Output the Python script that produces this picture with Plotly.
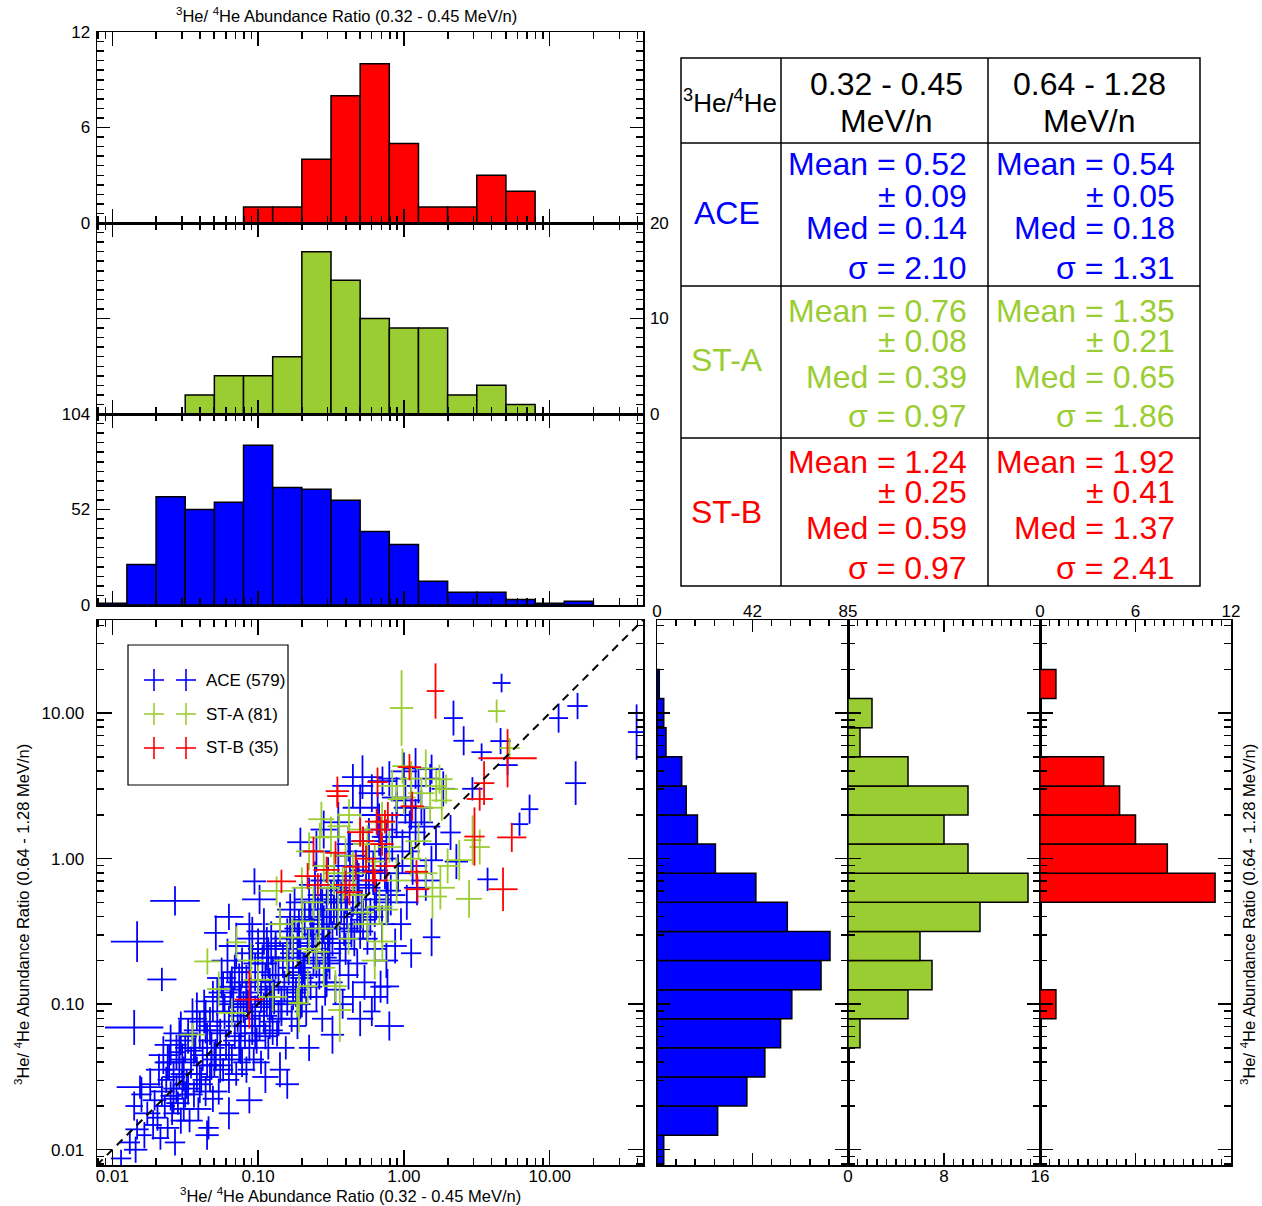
import numpy as np
import plotly.graph_objects as go

W, H = 1262, 1206
FONT = "Liberation Sans, Arial, Helvetica, sans-serif"
BLUE, GREEN, RED = "#0000ff", "#9acd32", "#ff0000"

# ---------------- data ----------------
BIN_W = 0.2  # histogram bin width in dex

# top histograms: 3He/4He (0.32-0.45 MeV/n), counts per 0.2-dex bin
top_red_start = -1.1
top_red_counts = [1, 1, 4, 8, 10, 5, 1, 1, 3, 2]
top_grn_start = -1.5
top_grn_counts = [2, 4, 4, 6, 17, 14, 10, 9, 9, 2, 3, 1]
top_blu_start = -2.1
top_blu_counts = [1, 22, 59, 52, 56, 87, 64, 63, 57, 40, 33, 13, 7, 7, 3, 1, 2]

# right histograms: 3He/4He (0.64-1.28 MeV/n)
right_blu_start = -2.1
right_blu_counts = [3, 27, 40, 48, 55, 60, 73, 77, 58, 44, 26, 18, 13, 11, 4, 3, 1]
right_grn_start = -1.3
right_grn_counts = [1, 5, 7, 6, 11, 15, 10, 8, 10, 5, 1, 2]
right_red_start = -1.1
right_red_counts = [1, 0, 0, 0, 11, 8, 6, 5, 4, 0, 0, 1]

# scatter points, log10 of ratio, with error half-widths in dex
ace_lx = [-1.94, -1.84,
          -1.88, -1.85, -1.83, -1.80, -1.78, -1.76, -1.74, -1.72, -1.71, -1.85, -1.81,
          -1.69, -1.68, -1.67, -1.66, -1.65, -1.64, -1.63, -1.62, -1.61, -1.60, -1.60, -1.59, -1.58, -1.57, -1.56, -1.56, -1.55, -1.54, -1.53, -1.53, -1.52, -1.52, -1.51, -1.51, -1.50,
          -1.57, -1.83, -1.66, -1.29, -1.20, -1.06, -0.99,
          -1.49, -1.48, -1.47, -1.46, -1.45, -1.44, -1.43, -1.42, -1.41, -1.40, -1.39, -1.38, -1.37, -1.36, -1.35, -1.35, -1.34, -1.33, -1.33, -1.32, -1.31, -1.31, -1.30,
          -1.29, -1.28, -1.27, -1.26, -1.25, -1.24, -1.23, -1.22, -1.21, -1.20, -1.20, -1.19, -1.18, -1.17, -1.16, -1.15, -1.15, -1.14, -1.13, -1.13, -1.12, -1.12, -1.11, -1.11, -1.10,
          -1.09, -1.08, -1.08, -1.07, -1.06, -1.06, -1.05, -1.04, -1.04, -1.03, -1.02, -1.02, -1.01, -1.00, -1.00, -0.99, -0.98, -0.98, -0.97, -0.96, -0.96, -0.95, -0.95, -0.94, -0.93, -0.93, -0.92, -0.92, -0.91, -0.91, -0.90, -0.90,
          -0.89, -0.88, -0.87, -0.86, -0.85, -0.84, -0.83, -0.82, -0.81, -0.80, -0.80, -0.79, -0.78, -0.77, -0.76, -0.76, -0.75, -0.74, -0.73, -0.73, -0.72, -0.72, -0.71, -0.71, -0.70, -0.70,
          -0.69, -0.68, -0.67, -0.66, -0.65, -0.64, -0.63, -0.62, -0.61, -0.60, -0.60, -0.59, -0.58, -0.57, -0.56, -0.56, -0.55, -0.54, -0.53, -0.53, -0.52, -0.52, -0.51, -0.51, -0.50,
          -0.49, -0.48, -0.47, -0.46, -0.45, -0.44, -0.43, -0.42, -0.41, -0.40, -0.40, -0.39, -0.38, -0.37, -0.36, -0.35, -0.35, -0.34, -0.33, -0.32, -0.32, -0.31, -0.30,
          -0.29, -0.28, -0.27, -0.26, -0.25, -0.24, -0.23, -0.22, -0.21, -0.20, -0.19, -0.17, -0.16, -0.15, -0.13, -0.12, -0.11,
          -0.09, -0.08, -0.06, -0.05, -0.04, -0.02, -0.01, 0.01, 0.02, 0.04, 0.05, 0.06, 0.08, 0.09,
          -0.45, -0.38, -0.30, -0.22, -0.18, -0.10, -0.05, 0.00, 0.05, 0.10, -0.60, -0.55, -0.35, -0.12, 0.08, 0.14,
          0.12, 0.15, 0.18, 0.19, 0.22, 0.27, 0.34, 0.41, 0.47, 0.36, 0.533, 0.574, 0.663, 0.670, 0.711, 0.793, 0.862, 1.061, 1.178, 1.191, 1.596, 0.19, -0.147, -0.284, -0.71, -1.025, 0.189, 0.32,
          -0.80, -0.85, -1.06, -1.20, -0.49, -0.10, -0.30, -0.65, -1.35, -0.95, -0.113, -0.20,
          -1.62, -1.58, -1.54, -1.48, -1.44, -1.40, -1.36, -1.32, -1.28, -1.24, -1.20, -1.16, -1.12, -1.08, -1.04, -1.00, -0.96, -0.92, -0.88, -0.84,
          -0.80, -0.76, -0.72, -0.68, -0.64, -0.60, -0.56, -0.52, -0.48, -0.44, -0.40, -0.36, -0.32, -0.28, -0.24, -0.20, -0.16, -0.12,
          -1.50, -1.42, -1.26, -1.18, -1.02, -0.94, -0.86, -0.78, -0.70, -0.62, -0.54, -0.46]
ace_ly = [-2.06, -2.00,
          -1.95, -1.70, -1.86, -1.62, -1.90, -1.75, -1.55, -1.83, -1.66, -1.16, -1.57,
          -1.78, -1.45, -1.92, -1.60, -1.35, -1.70, -1.52, -1.85, -1.40, -1.63, -1.28, -1.75, -1.50, -1.95, -1.58, -1.33, -1.68, -1.45, -1.80, -1.20, -1.55, -1.38, -1.72, -1.48, -1.62,
          -0.29, -0.57, -0.83, -0.51, -0.40, -0.45, -0.28,
          -1.55, -1.22, -1.80, -1.40, -1.10, -1.62, -1.30, -1.48, -1.72, -1.18, -1.52, -1.35, -1.05, -1.60, -1.25, -1.42, -1.85, -1.15, -1.50, -1.30, -0.98, -1.65, -1.38,
          -1.35, -0.95, -1.60, -1.20, -0.82, -1.45, -1.05, -1.28, -0.70, -1.52, -1.12, -0.90, -1.38, -1.00, -1.22, -0.60, -1.48, -1.08, -0.85, -1.30, -0.98, -1.15, -0.75, -1.40, -1.02,
          -1.20, -0.85, -1.45, -1.00, -0.65, -1.30, -0.92, -1.10, -0.55, -1.38, -0.78, -1.05, -1.25, -0.88, -0.62, -1.15, -0.95, -1.40, -0.72, -1.02, -0.50, -1.22, -0.84, -0.98, -1.30, -0.68, -0.90, -1.12, -0.58, -1.00, -0.80, -1.18,
          -0.95, -0.60, -1.20, -0.80, -0.45, -1.05, -0.70, -0.88, -1.30, -0.55, -0.98, -0.75, -0.40, -1.10, -0.65, -0.85, -0.35, -0.92, -1.15, -0.58, -0.78, -0.48, -1.00, -0.68, -0.82, -0.30,
          -0.75, -0.42, -1.05, -0.60, -0.28, -0.88, -0.52, -0.70, -0.18, -0.95, -0.62, -0.40, -0.80, -0.25, -0.55, -1.10, -0.45, -0.68, -0.35, -0.85, -0.58, -0.15, -0.72, -0.48, -0.30,
          -0.55, -0.20, -0.90, -0.40, -0.05, -0.70, -0.30, -1.00, -0.48, -0.12, -0.62, -0.35, -0.80, 0.02, -0.45, -0.25, -0.95, -0.55, -0.10, -0.38, -0.72, -0.18, -0.50,
          -0.35, 0.05, -0.85, -0.20, -0.55, 0.12, -0.40, -1.05, -0.10, -0.62, -0.28, 0.20, -0.88, -0.45, -0.05, -0.70, -0.30,
          -0.25, 0.15, -0.60, 0.30, -0.10, -0.45, 0.05, 0.40, -0.30, 0.18, -0.65, -0.05, 0.25, -0.20,
          0.25, 0.10, 0.35, 0.45, 0.30, 0.55, 0.42, 0.60, 0.35, 0.50, 0.05, 0.20, 0.50, 0.15, 0.62, 0.22,
          0.35, -0.15, 0.55, -0.54, 0.10, 0.48, 0.966, 0.81, 0.48, -0.02, 0.732, -0.142, 0.808, 1.207, 0.643, 0.237, 0.34, 0.966, 0.519, 1.049, 0.87, 0.615, 0.533, 0.56, 0.113, -0.156, -0.011, 0.18,
          -1.55, -1.45, -1.66, -1.75, -1.21, -1.15, -1.10, -1.30, -1.90, -1.50, -0.878, -0.95,
          -1.40, -1.65, -1.25, -1.58, -1.32, -1.55, -1.12, -1.42, -1.18, -0.92, -1.35, -0.78, -1.25, -0.95, -1.15, -0.72, -1.08, -0.85, -0.68, -1.00,
          -0.62, -0.90, -0.55, -0.80, -0.42, -0.72, -0.35, -0.65, -0.30, -0.58, -0.22, -0.50, -0.15, -0.42, -0.08, -0.35, 0.00, -0.22,
          -1.30, -1.05, -1.42, -0.88, -1.20, -0.62, -1.10, -0.50, -0.95, -0.48, -0.85, -0.28]
ace_ex = [.07, .08,
          .07, .06, .08, .07, .05, .09, .07, .06, .08, .20, .16,
          .07, .09, .06, .08, .10, .07, .06, .08, .09, .07, .11, .06, .08, .07, .09, .06, .08, .10, .07, .12, .06, .08, .07, .09, .06,
          .17, .18, .10, .08, .10, .09, .12,
          .08, .06, .09, .07, .10, .06, .08, .07, .09, .11, .06, .08, .07, .09, .06, .10, .07, .08, .06, .09, .12, .07, .08,
          .07, .09, .06, .08, .10, .07, .08, .06, .11, .07, .09, .08, .06, .10, .07, .12, .08, .06, .09, .07, .08, .10, .07, .06, .09,
          .08, .07, .06, .09, .10, .07, .08, .06, .11, .07, .09, .08, .06, .10, .07, .08, .09, .06, .10, .07, .12, .08, .07, .09, .06, .10, .08, .07, .11, .09, .08, .07,
          .08, .07, .09, .06, .10, .08, .07, .09, .06, .11, .08, .07, .10, .06, .09, .08, .12, .07, .06, .09, .08, .10, .07, .09, .08, .11,
          .07, .09, .08, .06, .10, .08, .07, .09, .11, .07, .08, .10, .06, .09, .08, .07, .10, .08, .09, .06, .08, .12, .07, .09, .08,
          .08, .10, .07, .09, .11, .08, .09, .07, .10, .12, .08, .09, .07, .11, .08, .10, .07, .09, .12, .08, .07, .10, .09,
          .09, .11, .08, .10, .07, .12, .09, .06, .11, .08, .10, .12, .07, .09, .11, .08, .10,
          .10, .12, .08, .11, .09, .07, .12, .10, .08, .11, .07, .10, .12, .09,
          .10, .08, .12, .09, .11, .08, .10, .09, .12, .08, .10, .09, .14, .10, .08, .11,
          .08, .10, .07, .06, .09, .08, .065, .07, .07, .08, .07, .07, .07, .062, .07, .06, .06, .065, .072, .07, .06, .08, .10, .14, .09, .08, .08, .07,
          .08, .07, .09, .07, .08, .10, .09, .07, .08, .09, .08, .09,
          .09, .07, .10, .08, .06, .09, .11, .07, .08, .10, .06, .09, .12, .07, .08, .10, .09, .06, .11, .08,
          .07, .10, .09, .12, .08, .07, .10, .09, .11, .08, .12, .07, .10, .09, .13, .08, .11, .10,
          .07, .09, .08, .10, .07, .11, .08, .09, .10, .08, .12, .09]
ace_ey = [.06, .09,
          .08, .10, .07, .12, .09, .08, .11, .10, .07, .12, .08,
          .09, .11, .08, .10, .13, .08, .09, .07, .12, .10, .14, .08, .11, .09, .10, .12, .08, .13, .09, .15, .10, .11, .08, .12, .09,
          .10, .14, .08, .12, .09, .08, .10,
          .10, .12, .08, .11, .14, .09, .10, .12, .08, .13, .09, .11, .15, .10, .12, .09, .08, .13, .10, .11, .14, .09, .12,
          .11, .13, .09, .10, .14, .08, .12, .10, .15, .09, .11, .13, .10, .12, .09, .16, .08, .11, .13, .10, .12, .09, .14, .10, .11,
          .11, .12, .09, .10, .14, .09, .12, .10, .15, .08, .13, .11, .09, .12, .14, .10, .11, .08, .13, .10, .16, .09, .12, .11, .08, .14, .10, .12, .15, .11, .13, .10,
          .12, .10, .09, .13, .15, .10, .12, .11, .08, .14, .10, .12, .16, .09, .13, .11, .15, .10, .09, .14, .12, .13, .10, .12, .11, .15,
          .11, .13, .10, .12, .15, .09, .12, .11, .16, .10, .13, .14, .10, .15, .12, .09, .13, .11, .14, .10, .12, .16, .11, .13, .15,
          .12, .15, .10, .13, .16, .11, .14, .10, .12, .17, .11, .13, .10, .16, .12, .15, .11, .12, .16, .13, .10, .15, .12,
          .13, .17, .12, .14, .11, .16, .13, .10, .15, .12, .14, .18, .11, .13, .16, .12, .14,
          .14, .17, .12, .16, .13, .11, .15, .16, .12, .15, .10, .13, .16, .12,
          .14, .12, .16, .13, .15, .12, .14, .13, .15, .12, .14, .13, .15, .12, .14, .13,
          .12, .14, .10, .13, .11, .12, .12, .10, .08, .12, .06, .08, .09, .064, .07, .08, .10, .10, .15, .09, .19, .10, .10, .15, .10, .09, .10, .12,
          .10, .12, .09, .11, .13, .10, .12, .09, .10, .11, .12, .10,
          .12, .10, .14, .11, .09, .13, .15, .10, .12, .14, .09, .12, .16, .11, .13, .14, .12, .10, .15, .12,
          .11, .14, .13, .16, .12, .10, .14, .13, .15, .12, .16, .11, .14, .13, .17, .12, .15, .14,
          .10, .13, .12, .14, .11, .15, .12, .13, .14, .12, .16, .13]

sta_lx = [-0.016, 0.636, 0.725, -0.01, 0.244, -0.051, 0.222, 0.29, -0.566, -0.577, -0.444, 0.471, 0.52, 0.38, -0.377, 0.196, 0.447, -0.873,
          -0.696, -0.765, -1.149, -1.348, -1.27, -1.0, -0.6, -0.47, -0.66, -0.733, -0.148, -0.168, -0.285, -1.451, -1.18, -0.72, -0.44, -0.42,
          0.05, 0.12, 0.15, -0.08, 0.0, 0.18, 0.26,
          -0.65, -0.55, -0.50, -0.40, -0.35, -0.30, -0.25, -0.20, -0.15, -0.10, -0.05, 0.05, 0.10, 0.15, 0.25, 0.30,
          -0.85, -0.80, -0.62, -0.58, -0.52, -0.45, -0.38, -0.55, -0.90, -1.05, -0.70, -0.65, -0.33, -0.25, -0.48, -0.12, -0.20]
sta_ly = [1.035, 1.014, 0.760, 0.636, 0.546, 0.409, 0.498, 0.478, 0.271, 0.146, 0.223, 0.127, 0.08, -0.01, 0.30, -0.26, -0.276, -0.222,
          -0.431, -0.541, -0.575, -0.706, -0.896, -0.833, -0.64, -0.876, -0.876, -0.99, -0.569, -0.33, -0.37, -1.209, -1.06, -0.995, -1.04, -0.18,
          0.55, 0.45, 0.62, 0.50, 0.42, 0.35, 0.40,
          0.05, -0.05, 0.15, 0.02, -0.10, 0.20, 0.10, -0.02, 0.25, 0.08, -0.15, 0.0, 0.12, -0.10, -0.20, -0.05,
          -0.45, -0.70, -0.30, -0.48, -0.20, -0.35, -0.55, -0.75, -0.95, -0.70, -0.20, -0.62, -0.25, -0.45, -0.10, -0.35, -0.70]
sta_ex = [.08, .06, .07, .07, .09, .06, .07, .08, .09, .07, .08, .06, .07, .09, .08, .10, .09, .12,
          .08, .09, .07, .09, .08, .10, .09, .08, .07, .06, .10, .09, .08, .09, .10, .07, .08, .09,
          .08, .09, .07, .10, .08, .09, .07,
          .09, .08, .10, .07, .09, .08, .10, .07, .09, .08, .10, .07, .09, .08, .10, .07,
          .08, .09, .07, .10, .08, .09, .07, .08, .10, .09, .07, .08, .09, .10, .07, .08, .09]
sta_ey = [.26, .08, .07, .12, .10, .09, .11, .10, .12, .10, .09, .17, .12, .14, .11, .15, .13, .10,
          .12, .14, .11, .09, .12, .10, .13, .11, .12, .10, .14, .12, .11, .08, .10, .20, .22, .12,
          .12, .10, .13, .11, .12, .10, .14,
          .13, .11, .14, .12, .15, .11, .13, .12, .14, .11, .16, .12, .13, .11, .15, .12,
          .12, .14, .11, .13, .12, .15, .11, .13, .10, .12, .14, .11, .13, .12, .15, .11, .13]

stb_lx = [0.217, -0.456, -0.456, 0.038, -0.181, 0.711, 0.55, 0.52, 0.74, 0.484, -0.11, -0.13, -0.30, -0.187, -0.469, 0.057, -0.53, 0.086,
          0.68, 0.093, -0.213, -0.33, -0.40, -0.84, -0.26, -1.06, -0.373, -0.59, -0.62, -0.66, -0.15, -0.12, -0.28, -0.20, -0.16]
stb_ly = [1.152, 0.464, 0.43, 0.629, 0.526, 0.69, 0.519, 0.41, 0.146, 0.152, 0.30, 0.255, 0.182, 0.255, 0.04, 0.36, -0.077, -0.09,
          -0.21, -0.21, -0.09, -0.055, -0.18, -0.156, 0.0, -0.968, -0.231, -0.18, 0.05, -0.12, 0.10, -0.05, 0.12, -0.15, 0.20]
stb_ex = [.06, .08, .07, .08, .07, .20, .07, .09, .10, .07, .08, .07, .09, .08, .07, .08, .09, .08,
          .10, .08, .07, .09, .08, .10, .07, .10, .09, .08, .07, .09, .08, .07, .08, .09, .07]
stb_ey = [.19, .10, .08, .09, .10, .20, .15, .08, .10, .20, .09, .08, .10, .09, .08, .10, .09, .08,
          .15, .09, .08, .09, .10, .08, .09, .20, .09, .08, .10, .09, .08, .09, .10, .08, .09]

legend_names = ["ACE (579)", "ST-A (81)", "ST-B (35)"]

# statistics table
table_rows = ["ACE", "ST-A", "ST-B"]
mean_lo = ["0.52", "0.76", "1.24"]
err_lo = ["0.09", "0.08", "0.25"]
med_lo = ["0.14", "0.39", "0.59"]
sig_lo = ["2.10", "0.97", "0.97"]
mean_hi = ["0.54", "1.35", "1.92"]
err_hi = ["0.05", "0.21", "0.41"]
med_hi = ["0.18", "0.65", "1.37"]
sig_hi = ["1.31", "1.86", "2.41"]

# ---------------- layout helpers ----------------
LMIN, LMAX = -2.105, 1.640

def fx(p):
    return p / W

def fy(p):
    return 1 - p / H

def xdom(a, b):
    return [fx(a), fx(b)]

def ydom(a, b):
    return [fy(b), fy(a)]

dec_major = [-2, -1, 0, 1]
dec_text = ["0.01", "0.10", "1.00", "10.00"]
dec_minor = [n + np.log10(k) for n in range(-3, 2) for k in range(2, 10)]
dec_minor = [v for v in dec_minor if LMIN <= v <= LMAX]

TICKFONT = dict(family=FONT, size=17, color="black")


def log_axis(dom, anchor, labels=False, major_len=14, standoff=2):
    return dict(domain=dom, anchor=anchor, range=[LMIN, LMAX], tickmode="array",
                tickvals=dec_major, ticktext=dec_text, showticklabels=labels,
                ticks="inside", ticklen=major_len, tickwidth=1.5, tickcolor="black",
                showline=True, linewidth=1.5, linecolor="black", mirror="ticks",
                showgrid=False, zeroline=False, fixedrange=True, tickfont=TICKFONT,
                ticklabelstandoff=standoff, automargin=False,
                minor=dict(tickmode="array", tickvals=dec_minor, ticks="inside", ticklen=7,
                           tickwidth=1.5, tickcolor="black", showgrid=False))


def count_axis(dom, anchor, rng, vals, texts, mdt, side, labels=True, major_len=13, minor_len=7):
    return dict(domain=dom, anchor=anchor, range=rng, tickmode="array", tickvals=vals,
                ticktext=texts, side=side, showticklabels=labels,
                ticks="inside", ticklen=major_len, tickwidth=1.5, tickcolor="black",
                showline=True, linewidth=1.5, linecolor="black", mirror="ticks",
                showgrid=False, zeroline=False, fixedrange=True, tickfont=TICKFONT,
                ticklabelstandoff=2, automargin=False,
                minor=dict(tickmode="linear", tick0=0, dtick=mdt, ticks="inside", ticklen=minor_len,
                           tickwidth=1.5, tickcolor="black", showgrid=False))


def outer_decade_ticks(overlay, anchor):
    # decade ticks that also stick out to the left of a side panel
    return dict(overlaying=overlay, anchor=anchor, side="left", range=[LMIN, LMAX],
                tickmode="array", tickvals=dec_major, showticklabels=False,
                ticks="outside", ticklen=13, tickwidth=1.5, tickcolor="black",
                showline=False, showgrid=False, zeroline=False, fixedrange=True, automargin=False)


def centers(start, counts):
    return [start + BIN_W * (i + 0.5) for i in range(len(counts))]


fig = go.Figure()

# ---- top histograms ----
for counts, start, col, ax in [(top_red_counts, top_red_start, RED, "1"),
                               (top_grn_counts, top_grn_start, GREEN, "2"),
                               (top_blu_counts, top_blu_start, BLUE, "3")]:
    fig.add_trace(go.Bar(x=centers(start, counts), y=counts, width=BIN_W,
                         marker=dict(color=col, line=dict(color="black", width=1.5)),
                         xaxis="x" if ax == "1" else "x" + ax,
                         yaxis="y" if ax == "1" else "y" + ax, showlegend=False))

# ---- right histograms ----
for counts, start, col, ax in [(right_blu_counts, right_blu_start, BLUE, "5"),
                               (right_grn_counts, right_grn_start, GREEN, "6"),
                               (right_red_counts, right_red_start, RED, "7")]:
    fig.add_trace(go.Bar(y=centers(start, counts), x=counts, width=BIN_W, orientation="h",
                         marker=dict(color=col, line=dict(color="black", width=1.5)),
                         xaxis="x" + ax, yaxis="y" + ax, showlegend=False))

# ---- scatter with error crosses ----
for lx, ly, ex, ey, col in [(ace_lx, ace_ly, ace_ex, ace_ey, BLUE),
                            (sta_lx, sta_ly, sta_ex, sta_ey, GREEN),
                            (stb_lx, stb_ly, stb_ex, stb_ey, RED)]:
    n = min(len(lx), len(ly), len(ex), len(ey))
    fig.add_trace(go.Scatter(x=lx[:n], y=ly[:n], mode="markers",
                             marker=dict(size=1, color=col, opacity=0),
                             error_x=dict(type="data", array=ex[:n], symmetric=True, width=0,
                                          thickness=1.8, color=col),
                             error_y=dict(type="data", array=ey[:n], symmetric=True, width=0,
                                          thickness=1.8, color=col),
                             xaxis="x4", yaxis="y4", showlegend=False, cliponaxis=True))

# one-to-one line
fig.add_trace(go.Scatter(x=[LMIN, LMAX], y=[LMIN, LMAX], mode="lines",
                         line=dict(color="black", width=2, dash="8px,6px"),
                         xaxis="x4", yaxis="y4", showlegend=False))

layout = dict(
    width=W, height=H, autosize=False,
    margin=dict(l=0, r=0, t=0, b=0, pad=0, autoexpand=False),
    paper_bgcolor="white", plot_bgcolor="rgba(0,0,0,0)",
    barmode="overlay", bargap=0, showlegend=False,
    font=dict(family=FONT, color="black"),
)

TX = xdom(97, 643)
layout["xaxis"] = log_axis(TX, "y")
layout["yaxis"] = count_axis(ydom(32, 223), "x", [0, 12], [0, 6, 12], ["0", "6", "12"], 0.6, "left")
layout["xaxis2"] = log_axis(TX, "y2")
layout["yaxis2"] = count_axis(ydom(223, 414), "x2", [0, 20], [0, 10, 20], ["0", "10", "20"], 1, "right")
layout["xaxis3"] = log_axis(TX, "y3")
layout["yaxis3"] = count_axis(ydom(414, 605), "x3", [0, 104], [0, 52, 104], ["0", "52", "104"], 5.2, "left")

layout["xaxis4"] = log_axis(xdom(97, 643), "y4", labels=True, major_len=15, standoff=0)
layout["yaxis4"] = log_axis(ydom(620, 1165), "x4", labels=True, major_len=15, standoff=8)

SY = ydom(620, 1165)
layout["xaxis5"] = count_axis(xdom(657, 848), "y5", [0, 85], [0, 42.5, 85], ["0", "42", "85"], 8.5, "top",
                              major_len=12, minor_len=6)
layout["yaxis5"] = log_axis(SY, "x5", major_len=13)
layout["xaxis6"] = count_axis(xdom(848, 1040), "y6", [0, 16], [0, 8, 16], ["0", "8", "16"], 0.8, "bottom",
                              major_len=12, minor_len=6)
layout["yaxis6"] = log_axis(SY, "x6", major_len=13)
layout["xaxis7"] = count_axis(xdom(1040, 1231), "y7", [0, 12], [0, 6, 12], ["0", "6", "12"], 0.6, "top",
                              major_len=12, minor_len=6)
layout["yaxis7"] = log_axis(SY, "x7", major_len=13)
layout["yaxis8"] = outer_decade_ticks("y5", "x5")
layout["yaxis9"] = outer_decade_ticks("y6", "x6")
layout["yaxis10"] = outer_decade_ticks("y7", "x7")

fig.update_layout(**layout)

# pull the horizontal-axis tick labels closer to their axis lines
for axname in ("xaxis4", "xaxis5", "xaxis6", "xaxis7"):
    try:
        fig.update_layout({axname: dict(ticklabelstandoff=-5)})
    except Exception:
        pass

shapes = []
annotations = []


def line(x0, y0, x1, y1, col="black", w=1.5):
    shapes.append(dict(type="line", xref="paper", yref="paper", x0=fx(x0), y0=fy(y0),
                       x1=fx(x1), y1=fy(y1), line=dict(color=col, width=w)))


def text(t, x, y, size, col="black", xa="center", ya="middle", angle=0):
    annotations.append(dict(text=t, x=fx(x), y=fy(y), xref="paper", yref="paper", showarrow=False,
                            xanchor=xa, yanchor=ya, textangle=angle,
                            font=dict(family=FONT, size=size, color=col)))


# ---- axis titles ----
xt = "<sup>3</sup>He/ <sup>4</sup>He Abundance Ratio (0.32 - 0.45 MeV/n)"
yt = "<sup>3</sup>He/ <sup>4</sup>He Abundance Ratio (0.64 - 1.28 MeV/n)"
text(xt, 346, 15, 16.5)
text(xt, 350, 1195, 16.5)
text(yt, 22, 915, 16.5, angle=-90)
text(yt, 1248, 915, 16.5, angle=-90)

# ---- legend ----
shapes.append(dict(type="rect", xref="paper", yref="paper", x0=fx(128), y0=fy(785), x1=fx(288), y1=fy(645),
                   line=dict(color="black", width=1.2), fillcolor="white", layer="above"))
leg_cols = [BLUE, GREEN, RED]
for i, (name, col) in enumerate(zip(legend_names, leg_cols)):
    yy = 680 + 34 * i
    for cx in (154, 186):
        line(cx - 10, yy, cx + 10, yy, col, 1.6)
        line(cx, yy - 11, cx, yy + 11, col, 1.6)
    text(name, 204, yy, 17, xa="left")

# ---- statistics table ----
TL, TC1, TC2, TR = 681, 781, 988, 1200
TT, TH, R1, R2, TB = 58, 143, 286, 438, 586
shapes.append(dict(type="rect", xref="paper", yref="paper", x0=fx(TL), y0=fy(TB), x1=fx(TR), y1=fy(TT),
                   line=dict(color="black", width=1.5)))
for xv in (TC1, TC2):
    line(xv, TT, xv, TB)
for yv in (TH, R1, R2):
    line(TL, yv, TR, yv)

text("<sup>3</sup>He/<sup>4</sup>He", 730, 101, 26)
text("0.32 - 0.45", 886, 84, 32)
text("MeV/n", 886, 121, 32)
text("0.64 - 1.28", 1089, 84, 32)
text("MeV/n", 1089, 121, 32)

row_cols = [BLUE, GREEN, RED]
row_label_y = [213, 360, 512]
row_line_y = [[164, 196, 228, 268], [311, 341, 377, 416], [462, 492, 528, 568]]
for i in range(3):
    col = row_cols[i]
    text(table_rows[i], 727, row_label_y[i], 32, col)
    ys = row_line_y[i]
    for xr, mn, er, md, sg in [(969, mean_lo, err_lo, med_lo, sig_lo), (1177, mean_hi, err_hi, med_hi, sig_hi)]:
        text("Mean = " + mn[i], xr, ys[0], 32, col, xa="right")
        text("\u00b1 " + er[i], xr, ys[1], 32, col, xa="right")
        text("Med = " + md[i], xr, ys[2], 32, col, xa="right")
        text("\u03c3 = " + sg[i], xr, ys[3], 32, col, xa="right")

fig.update_layout(shapes=shapes, annotations=annotations)

# remove the default page margin so the figure fills the window exactly
page_css = ("var s=document.createElement('style');"
            "s.innerHTML='html,body{margin:0;padding:0;overflow:hidden;}';"
            "document.head.appendChild(s);")
fig.write_html("out.html", post_script=page_css, config={"displayModeBar": False, "staticPlot": True})
